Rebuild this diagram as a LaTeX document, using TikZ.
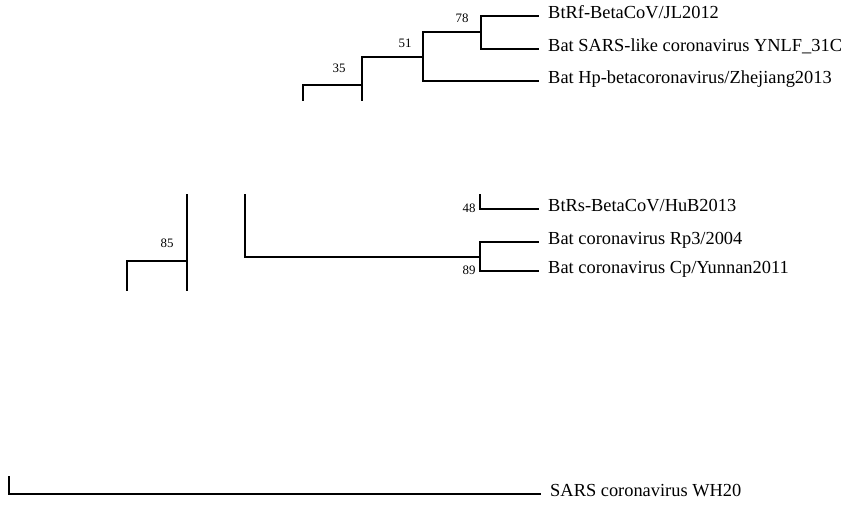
\documentclass[tikz,border=0pt]{standalone}
\usepackage{fontspec}
\setmainfont{Liberation Serif}
\usepackage{tikz}

\tikzset{
    leaf/.style={anchor=west, inner xsep=0.3cm, inner ysep=0pt,
                 text height=0.72em, text depth=0.22em,
                 font=\fontsize{15.7}{18}\selectfont},
    boot/.style={font=\fontsize{11}{13}\selectfont, inner sep=0pt},
    branch/.style={line width=1.3pt, line cap=rect}
}

\begin{document}
\begin{tikzpicture}[x=0.03cm, y=-0.03cm]
    \useasboundingbox (0,0) rectangle (848,512);

    % leaves
    \node[leaf] (rf)   at (538,16)  {BtRf-BetaCoV/JL2012};
    \node[leaf] (ynlf) at (538,49)  {Bat SARS-like coronavirus YNLF\_31C};
    \node[leaf] (hp)   at (538,81)  {Bat Hp-betacoronavirus/Zhejiang2013};
    \node[leaf] (hub)  at (538,209) {BtRs-BetaCoV/HuB2013};
    \node[leaf] (rp3)  at (538,242) {Bat coronavirus Rp3/2004};
    \node[leaf] (cp)   at (538,271) {Bat coronavirus Cp/Yunnan2011};
    \node[leaf] (wh20) at (540,494) {SARS coronavirus WH20};

    % inner nodes
    \coordinate (n78) at (481,32);
    \coordinate (n51) at (423,57);
    \coordinate (n35) at (362,85);
    \coordinate (n85) at (187,261);
    \coordinate (n89) at (480,257);

    % cut ends of the branches
    \coordinate (c35a) at (362,100);
    \coordinate (c35b) at (303,100);
    \coordinate (c85a) at (187,195);
    \coordinate (c85b) at (187,290);
    \coordinate (c85c) at (127,290);
    \coordinate (c89)  at (245,195);
    \coordinate (c48)  at (480,195);
    \coordinate (cwh)  at (9,477);

    % upper clade
    \draw[branch] (rf.west) -| (n78) |- (ynlf.west);
    \draw[branch] (n78) -| (n51) |- (hp.west);
    \draw[branch] (n51) -| (n35) -- (c35a);
    \draw[branch] (n35) -| (c35b);

    % middle part
    \draw[branch] (c85a) -- (c85b);
    \draw[branch] (n85) -| (c85c);
    \draw[branch] (c89) |- (n89);
    \draw[branch] (rp3.west) -| (n89) |- (cp.west);
    \draw[branch] (c48) |- (hub.west);

    % outgroup
    \draw[branch] (cwh) |- (wh20.west);

    % bootstrap values
    \node[boot] at (462,18)  {78};
    \node[boot] at (405,43)  {51};
    \node[boot] at (339,68)  {35};
    \node[boot] at (167,243) {85};
    \node[boot] at (469,208) {48};
    \node[boot] at (469,270) {89};
\end{tikzpicture}
\end{document}
